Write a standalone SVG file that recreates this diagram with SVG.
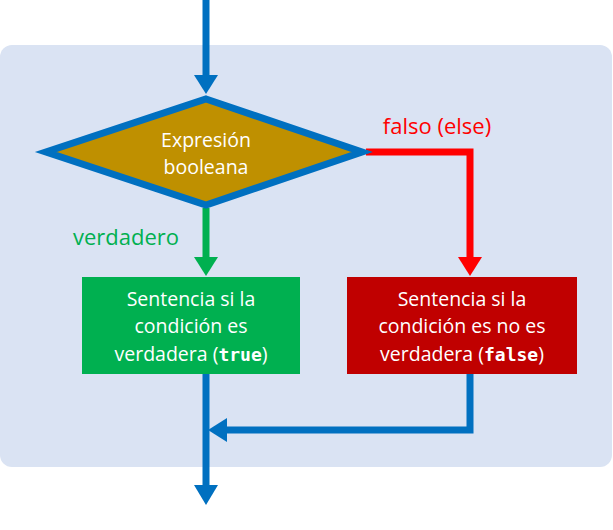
<svg xmlns="http://www.w3.org/2000/svg" width="613" height="530" viewBox="0 0 613 530">
<style>
text{font-family:"Open Sans","Noto Sans",sans-serif;font-size:19.5px;text-anchor:middle}
.w{fill:#fff}
.l{font-size:22px}
.m{font-family:"DejaVu Sans Mono",monospace;font-weight:bold;font-size:18px}
.c{fill:none;stroke-width:7}
</style>
<rect x="0" y="45" width="612" height="422" rx="12" fill="#dae3f3"/>
<g id="connectors">
<g fill="#0070c0">
<path class="c" stroke="#0070c0" d="M206,0 V76"/><path d="M194,75 L218,75 L206,94 z"/>
<path class="c" stroke="#0070c0" d="M206,374 V486"/><path d="M194,485 L218,485 L206,505 z"/>
<path class="c" stroke="#0070c0" d="M470,374 V430 H226"/><path d="M227,418 L227,442 L208,430 z"/>
</g>
<path class="c" stroke="#00b050" d="M206,208 V258"/><path fill="#00b050" d="M194,257 L218,257 L206,276 z"/>
<path class="c" stroke="#ff0000" d="M366,152 H470 V258"/><path fill="#ff0000" d="M458,257 L482,257 L470,276 z"/>
<text class="l" x="126" y="245" fill="#00b050">verdadero</text>
<text class="l" x="437" y="134" fill="#ff0000">falso (else)</text>
</g>
<g id="decision">
<path d="M206,99 L362,152 L206,205 L46,152 z" fill="#bf9000" stroke="#0070c0" stroke-width="7" stroke-linejoin="miter"/>
<text class="w" x="206" y="147">Expresión</text>
<text class="w" x="206" y="174">booleana</text>
</g>
<g id="true-stmt">
<rect x="82" y="277" width="218" height="97" fill="#00b050"/>
<text class="w" x="191" y="306">Sentencia si la</text>
<text class="w" x="191" y="333">condición es</text>
<text class="w" x="191" y="361">verdadera (<tspan class="m">true</tspan>)</text>
</g>
<g id="false-stmt">
<rect x="347" y="277" width="230" height="97" fill="#c00000"/>
<text class="w" x="462" y="306">Sentencia si la</text>
<text class="w" x="462" y="333">condición es no es</text>
<text class="w" x="462" y="361">verdadera (<tspan class="m">false</tspan>)</text>
</g>
</svg>
